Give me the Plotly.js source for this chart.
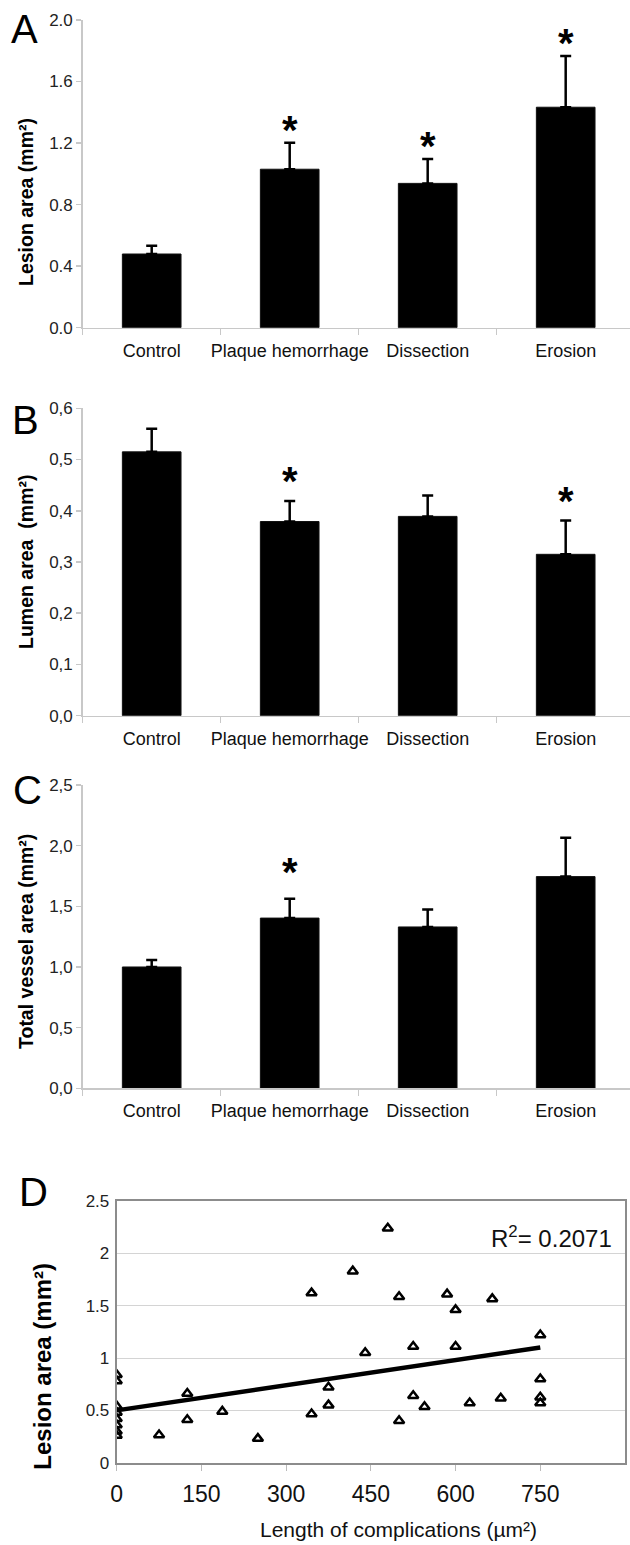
<!DOCTYPE html>
<html>
<head>
<meta charset="utf-8">
<script src="https://cdn.plot.ly/plotly-3.0.1.min.js"></script>
<style>html,body{margin:0;padding:0;background:#fff;}#chart{width:630px;height:1545px;}</style>
</head>
<body>
<div id="chart"></div>
<script>
// ---- data ----
const categories = ["Control", "Plaque hemorrhage", "Dissection", "Erosion"];

const lesionMean = [0.479, 1.03, 0.938, 1.433];
const lesionErr  = [0.054, 0.172, 0.158, 0.333];
const lesionSig  = [false, true, true, true];

const lumenMean = [0.515, 0.379, 0.389, 0.315];
const lumenErr  = [0.045, 0.040, 0.041, 0.066];
const lumenSig  = [false, true, false, true];

const vesselMean = [1.00, 1.403, 1.33, 1.745];
const vesselErr  = [0.058, 0.160, 0.143, 0.320];
const vesselSig  = [false, true, false, false];

const lesionTicks = [0, 0.4, 0.8, 1.2, 1.6, 2.0];
const lesionTickText = ["0.0", "0.4", "0.8", "1.2", "1.6", "2.0"];
const lumenTicks = [0, 0.1, 0.2, 0.3, 0.4, 0.5, 0.6];
const lumenTickText = ["0,0", "0,1", "0,2", "0,3", "0,4", "0,5", "0,6"];
const vesselTicks = [0, 0.5, 1.0, 1.5, 2.0, 2.5];
const vesselTickText = ["0,0", "0,5", "1,0", "1,5", "2,0", "2,5"];

// scatter (panel D)
const complicationLength = [0, 0, 0, 0, 0, 0, 0, 0,
  75, 125, 125, 187, 250, 345, 345, 375, 375, 418,
  480, 440, 500, 500, 525, 525, 545, 585, 600, 600,
  625, 665, 680, 750, 750, 750, 750];
const lesionAreaD = [0.84, 0.78, 0.54, 0.48, 0.42, 0.36, 0.30, 0.26,
  0.265, 0.66, 0.41, 0.49, 0.23, 1.62, 0.465, 0.72, 0.55, 1.83,
  2.24, 1.05, 1.585, 0.40, 1.11, 0.64, 0.535, 1.61, 1.46, 1.11,
  0.57, 1.565, 0.615, 1.22, 0.80, 0.625, 0.57];
const trendX = [0, 750];
const trendY = [0.50, 1.10];
const rSquared = "0.2071";
const xTicksD = [0, 150, 300, 450, 600, 750];
const yTicksD = [0, 0.5, 1, 1.5, 2, 2.5];

// ---- styling ----
const W = 630, H = 1545;
const FONT = "Liberation Sans, Arial, sans-serif";
const px = v => v / W;
const py = v => 1 - v / H;

function barTrace(vals, errs, xa, ya) {
  return {
    type: "bar", x: categories, y: vals, xaxis: xa, yaxis: ya,
    width: 0.425,
    marker: {color: "#000", line: {color: "#111", width: 1}},
    error_y: {type: "data", array: errs, arrayminus: errs.map(() => 0), symmetric: false,
              visible: true, color: "#000", thickness: 2.5, width: 5.5},
    showlegend: false, hoverinfo: "skip"
  };
}

const traces = [
  barTrace(lesionMean, lesionErr, "x", "y"),
  barTrace(lumenMean, lumenErr, "x2", "y2"),
  barTrace(vesselMean, vesselErr, "x3", "y3"),
  {type: "scatter", mode: "markers", x: complicationLength, y: lesionAreaD, xaxis: "x4", yaxis: "y4",
   marker: {symbol: "triangle-up-open", size: 9, color: "#000", line: {width: 2.5, color: "#000"}},
   showlegend: false, hoverinfo: "skip"},
  {type: "scatter", mode: "lines", x: trendX, y: trendY, xaxis: "x4", yaxis: "y4",
   line: {color: "#000", width: 4.5}, showlegend: false, hoverinfo: "skip"}
];

const catAxis = (yanchor) => ({
  anchor: yanchor, domain: [px(82.7), 1], range: [-0.5, 3.466],
  type: "category", showline: true, linecolor: "#c8c8c8", linewidth: 1.5,
  ticks: "outside", tickson: "boundaries", ticklen: 6, tickcolor: "#c8c8c8", tickwidth: 1.5,
  tickangle: 0,
  tickfont: {family: FONT, size: 18, color: "#111"}, ticklabelstandoff: 6,
  showgrid: false, zeroline: false, fixedrange: true
});
const valAxis = (xanchor, dom, range, tv, tt) => ({
  anchor: xanchor, domain: dom, range: range, tickvals: tv, ticktext: tt,
  showline: true, linecolor: "#c8c8c8", linewidth: 1.5,
  ticks: "outside", ticklen: 5, tickcolor: "#c8c8c8", tickwidth: 1.5,
  tickfont: {family: FONT, size: 17, color: "#222"},
  showgrid: false, zeroline: false, fixedrange: true
});

const layout = {
  width: W, height: H, margin: {l: 0, r: 0, t: 0, b: 0},
  paper_bgcolor: "#fff", plot_bgcolor: "rgba(0,0,0,0)",
  font: {family: FONT, color: "#000"},
  showlegend: false,
  xaxis: catAxis("y"),
  yaxis: valAxis("x", [py(327.7), py(20)], [0, 2.0], lesionTicks, lesionTickText),
  xaxis2: catAxis("y2"),
  yaxis2: valAxis("x2", [py(715.7), py(408.3)], [0, 0.6], lumenTicks, lumenTickText),
  xaxis3: catAxis("y3"),
  yaxis3: valAxis("x3", [py(1088.3), py(785)], [0, 2.5], vesselTicks, vesselTickText),
  xaxis4: {anchor: "y4", domain: [px(116.7), px(625)], range: [0, 900], tickvals: xTicksD,
    showline: true, mirror: true, linecolor: "#8c8c8c", linewidth: 2,
    ticks: "outside", ticklen: 6, tickcolor: "#bbb", tickwidth: 1,
    tickfont: {family: FONT, size: 23, color: "#111"}, ticklabelstandoff: 4,
    showgrid: false, zeroline: false, fixedrange: true},
  yaxis4: {anchor: "x4", domain: [py(1462.7), py(1201)], range: [0, 2.5], tickvals: yTicksD,
    showline: true, mirror: true, linecolor: "#8c8c8c", linewidth: 2,
    ticks: "", tickfont: {family: FONT, size: 17, color: "#222"}, ticklabelstandoff: 2,
    showgrid: true, gridcolor: "#d4d4d4", gridwidth: 1, zeroline: false, fixedrange: true},
  annotations: []
};

const ann = layout.annotations;
// panel letters
[["A", 24.5, 27], ["B", 25, 418], ["C", 27, 788], ["D", 33, 1190]].forEach(([t, x, y]) => {
  ann.push({text: t, xref: "paper", yref: "paper", x: px(x), y: py(y), xanchor: "center", yanchor: "middle",
    showarrow: false, font: {family: FONT, size: 40, color: "#000"}, yshift: -2});
});
// y-axis titles
[["Lesion area (mm²)", 26, 202, 19.5], ["Lumen area  (mm²)", 26, 562, 19.5],
 ["Total vessel area (mm²)", 26, 942, 19.5], ["Lesion area (mm²)", 41.7, 1366, 24]].forEach(([t, x, y, s]) => {
  ann.push({text: "<b>" + t + "</b>", xref: "paper", yref: "paper", x: px(x), y: py(y), textangle: -90,
    xanchor: "center", yanchor: "middle", showarrow: false, font: {family: FONT, size: s, color: "#000"}});
});
// x title D
ann.push({text: "Length of complications (µm²)", xref: "paper", yref: "paper", x: px(398), y: py(1529),
  xanchor: "center", yanchor: "middle", showarrow: false, font: {family: FONT, size: 21, color: "#111"}});
// R squared
ann.push({text: "R<sup>2</sup>= " + rSquared, xref: "x4", yref: "paper", x: 880, y: py(1237),
  xanchor: "right", yanchor: "middle", showarrow: false, font: {family: FONT, size: 24, color: "#111"}});
// significance asterisks
function stars(vals, errs, sig, xr, yr, shift) {
  sig.forEach((s, i) => {
    if (!s) return;
    ann.push({text: "<b>*</b>", xref: xr, yref: yr, x: categories[i], y: vals[i] + errs[i],
      xanchor: "center", yanchor: "middle", yshift: shift, showarrow: false,
      font: {family: FONT, size: 40, color: "#000"}});
  });
}
stars(lesionMean, lesionErr, lesionSig, "x", "y", 13);
stars(lumenMean, lumenErr, lumenSig, "x2", "y2", 20);
stars(vesselMean, vesselErr, vesselSig, "x3", "y3", 27);

Plotly.newPlot("chart", traces, layout, {staticPlot: true, displayModeBar: false});
</script>
</body>
</html>
